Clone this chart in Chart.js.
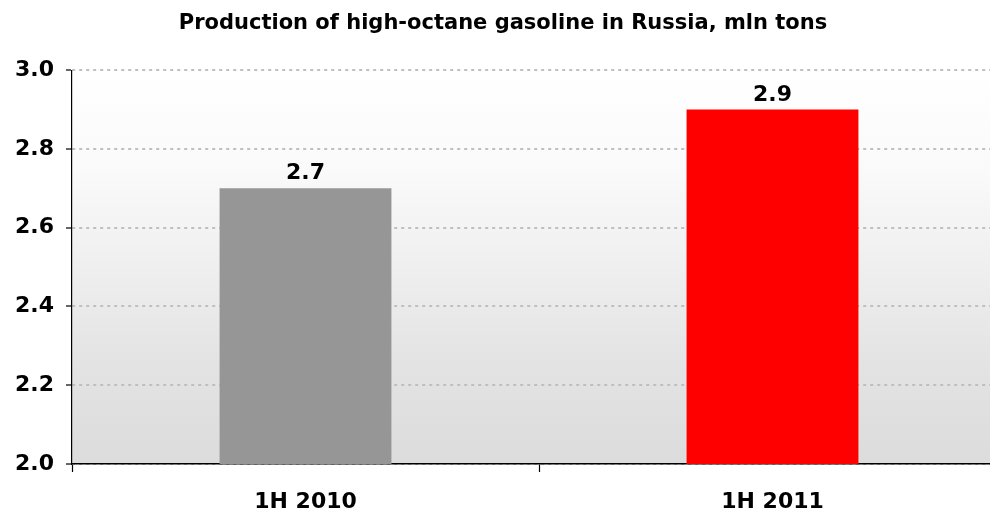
<!DOCTYPE html>
<html>
<head>
<meta charset="utf-8">
<script src="https://cdn.jsdelivr.net/npm/chart.js@4"></script>
<style>
  html, body { margin: 0; padding: 0; background: #fff; overflow: hidden; }
  #wrap { width: 1006px; height: 514px; }
</style>
</head>
<body>
<div id="wrap"><canvas id="gasChart" width="1006" height="514"></canvas></div>
<script>
// data
const categories = ['1H 2010', '1H 2011'];
const production = [2.7, 2.9];
const barColors = ['#969696', '#ff0000'];
const yMin = 2.0;
const yMax = 3.0;
const yStep = 0.2;

const FONT = "'DejaVu Sans', Verdana, sans-serif";

// light-to-grey fill behind the bars
const plotBackground = {
    id: 'plotBackground',
    beforeDraw(chart) {
        const { ctx, chartArea } = chart;
        const grad = ctx.createLinearGradient(0, chartArea.top, 0, chartArea.bottom);
        grad.addColorStop(0, '#ffffff');
        grad.addColorStop(0.25, '#fafafa');
        grad.addColorStop(0.5, '#efefef');
        grad.addColorStop(0.75, '#e3e3e3');
        grad.addColorStop(1, '#dcdcdc');
        ctx.save();
        ctx.fillStyle = grad;
        ctx.fillRect(chartArea.left, chartArea.top, chartArea.right - chartArea.left, chartArea.bottom - chartArea.top);
        ctx.restore();
    }
};

// value labels above each bar
const valueLabels = {
    id: 'valueLabels',
    afterDatasetsDraw(chart) {
        const { ctx } = chart;
        const meta = chart.getDatasetMeta(0);
        ctx.save();
        ctx.font = 'bold 22px ' + FONT;
        ctx.fillStyle = '#000';
        ctx.textAlign = 'center';
        ctx.textBaseline = 'alphabetic';
        meta.data.forEach((bar, i) => {
            ctx.fillText(production[i].toFixed(1), bar.x, bar.y - 9);
        });
        ctx.restore();
    }
};

new Chart(document.getElementById('gasChart'), {
    type: 'bar',
    data: {
        labels: categories,
        datasets: [{
            data: production,
            backgroundColor: barColors,
            borderWidth: 0,
            categoryPercentage: 1,
            barPercentage: 0.368
        }]
    },
    options: {
        responsive: false,
        animation: false,
        layout: { padding: 0 },
        plugins: {
            legend: { display: false },
            tooltip: { enabled: false },
            title: {
                display: true,
                text: 'Production of high-octane gasoline in Russia, mln tons',
                color: '#000',
                font: { family: FONT, size: 21, weight: 'bold' },
                padding: { top: 11, bottom: 34 }
            }
        },
        scales: {
            x: {
                afterFit(scale) { scale.height = 50; },
                grid: {
                    offset: true,
                    drawOnChartArea: false,
                    drawTicks: true,
                    tickLength: 8,
                    tickColor: '#000',
                    tickWidth: 1.2
                },
                border: { color: '#000', width: 1.5 },
                ticks: {
                    color: '#000',
                    padding: 17,
                    font: { family: FONT, size: 22, weight: 'bold' }
                }
            },
            y: {
                min: yMin,
                max: yMax,
                afterFit(scale) { scale.width = 72; },
                grid: {
                    color: '#bfbfbf',
                    lineWidth: 2,
                    tickLength: 6,
                    tickColor: '#000',
                    tickWidth: 1.2,
                    tickBorderDash: [0, 0]
                },
                border: { color: '#000', width: 1.2, dash: [3, 4] },
                ticks: {
                    stepSize: yStep,
                    color: '#000',
                    padding: 12,
                    font: { family: FONT, size: 22, weight: 'bold' },
                    callback: v => v.toFixed(1)
                }
            }
        }
    },
    plugins: [plotBackground, valueLabels]
});
</script>
</body>
</html>
